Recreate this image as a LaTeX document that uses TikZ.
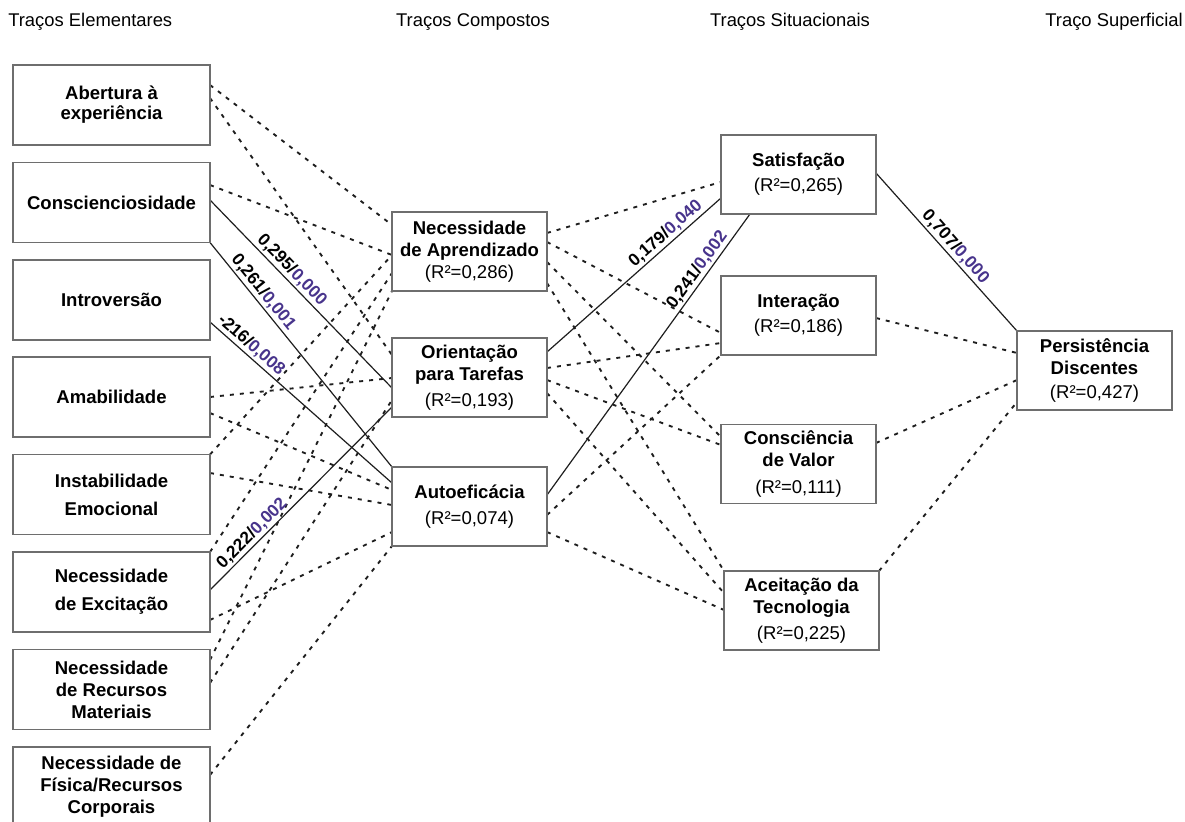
\documentclass[tikz,border=0pt]{standalone}
\usepackage{fontspec}
\setmainfont{Liberation Sans}
\pgfdeclarelayer{bg}
\pgfsetlayers{bg,main}
\definecolor{boxline}{RGB}{110,110,110}
\definecolor{linkcol}{RGB}{30,30,30}
\definecolor{pval}{RGB}{72,52,140}
\newcommand\coef[2]{\textbf{#1/\textcolor{pval}{#2}}}
\tikzset{
  trait/.style={draw=boxline, line width=1.1pt, fill=white, inner sep=0pt, outer sep=0pt,
    align=center, font=\fontsize{13.9pt}{16.5pt}\selectfont\bfseries},
  elem/.style={trait, minimum width=147.75pt, minimum height=60pt},
  comp/.style={trait, minimum width=116.25pt, minimum height=59.25pt},
  weak/.style={draw=linkcol, line width=1.4pt, dash pattern=on 3pt off 4.5pt},
  strong/.style={draw=linkcol, line width=0.9pt},
  coeflabel/.style={sloped, above, font=\fontsize{13pt}{15pt}\selectfont, inner sep=1.5pt},
  head/.style={font=\fontsize{13.8pt}{16pt}\selectfont, inner sep=0pt}
}
\begin{document}
\begin{tikzpicture}[x=0.75pt,y=-0.75pt]
\useasboundingbox (0,0) rectangle (1185,821);
\clip (0,0) rectangle (1185,821);

% column headings
\node[head, anchor=west] (h1) at (8,22) {Traços Elementares};
\node[head] (h2) at (473,22) {Traços Compostos};
\node[head] (h3) at (790,22) {Traços Situacionais};
\node[head, anchor=east] (h4) at (1183,22) {Traço Superficial};

% elementary traits
\node[elem] (ab) at (111.5,105) {Abertura à\\[-1.5pt]experiência};
\node[elem] (co) at (111.5,202.5) {Conscienciosidade};
\node[elem] (in) at (111.5,300) {Introversão};
\node[elem] (am) at (111.5,397) {Amabilidade};
\node[elem] (ie) at (111.5,494.5) {Instabilidade\\[4.5pt]Emocional};
\node[elem] (ne) at (111.5,592) {Necessidade\\[4.5pt]de Excitação};
\node[elem] (rm) at (111.5,689.5) {Necessidade\\de Recursos\\Materiais};
\node[elem] (rc) at (111.5,787) {Necessidade de\\Física/Recursos\\Corporais};

% compound traits
\node[comp] (na) at (469.5,251.5) {Necessidade\\de Aprendizado\\\mdseries(R²=0,286)};
\node[comp] (ot) at (469.5,377.5) {Orientação\\para Tarefas\\[3pt]\mdseries(R²=0,193)};
\node[comp] (ae) at (469.5,506.5) {Autoeficácia\\[3pt]\mdseries(R²=0,074)};

% situational traits
\node[comp] (sa) at (798.5,174.5) {Satisfação\\[2.25pt]\mdseries(R²=0,265)};
\node[comp] (it) at (798.5,315.5) {Interação\\[2.25pt]\mdseries(R²=0,186)};
\node[comp] (cv) at (798.5,464) {Consciência\\de Valor\\[3.75pt]\mdseries(R²=0,111)};
\node[comp] (at) at (801.5,610.5) {Aceitação da\\Tecnologia\\[3pt]\mdseries(R²=0,225)};

% surface trait
\node[comp] (pd) at (1094.5,370.5) {Persistência\\Discentes\\[1.5pt]\mdseries(R²=0,427)};

\begin{pgfonlayer}{bg}
% elementary -> compound, non-significant paths
\draw[weak] (ab.east |- 0,85)  -- (na.west |- 0,225);
\draw[weak] (ab.east |- 0,98)  -- (ot.west |- 0,355);
\draw[weak] (co.east |- 0,185) -- (na.west |- 0,255);
\draw[weak] (am.east |- 0,397) -- (ot.west |- 0,378);
\draw[weak] (am.east |- 0,413) -- (ae.west |- 0,490);
\draw[weak] (ie.north east)    -- (na.west |- 0,255);
\draw[weak] (ie.east |- 0,473) -- (ae.west |- 0,505);
\draw[weak] (ne.north east)    -- (na.west |- 0,273);
\draw[weak] (ne.east |- 0,620) -- (ae.west |- 0,532);
\draw[weak] (rm.east |- 0,660) -- (na.south west);
\draw[weak] (rm.east |- 0,683) -- (ot.west |- 0,400);
\draw[weak] (rc.east |- 0,775) -- (ae.south west);

% elementary -> compound, significant paths
\draw[strong] (co.east |- 0,200) -- node[coeflabel, pos=0.41] {\coef{0,295}{0,000}} (ot.west |- 0,388);
\draw[strong] (co.south east) -- node[coeflabel, pos=0.25] {\coef{0,261}{0,001}} (ae.north west);
\draw[strong] (in.east |- 0,322) -- node[coeflabel, pos=0.19] {\coef{-216}{0,008}} (ae.west |- 0,483);
\draw[strong] (ne.east |- 0,590) -- node[coeflabel, pos=0.27] {\coef{0,222}{0,002}} (ot.west |- 0,407);

% compound -> situational
\draw[weak] (na.east |- 0,233) -- (sa.west |- 0,182);
\draw[weak] (na.east |- 0,242) -- (it.west |- 0,333);
\draw[weak] (na.east |- 0,262) -- (cv.west |- 0,437);
\draw[weak] (na.east |- 0,283) -- (at.north west);
\draw[weak] (ot.east |- 0,368) -- (it.west |- 0,343);
\draw[weak] (ot.east |- 0,380) -- (cv.west |- 0,445);
\draw[weak] (ot.east |- 0,393) -- (at.west |- 0,593);
\draw[weak] (ae.east |- 0,515) -- (it.south west);
\draw[weak] (ae.east |- 0,532) -- (at.west |- 0,610);
\draw[strong] (ot.east |- 0,352) -- node[coeflabel, pos=0.72] {\coef{0,179}{0,040}} (sa.west |- 0,198);
\draw[strong] (ae.east |- 0,495) -- node[coeflabel, pos=0.78] {\coef{0,241}{0,002}} (sa.south -| 750,0);

% situational -> surface
\draw[strong] (sa.east |- 0,173) -- node[coeflabel, pos=0.51] {\coef{0,707}{0,000}} (pd.north west);
\draw[weak] (it.east |- 0,318) -- (pd.west |- 0,353);
\draw[weak] (cv.east |- 0,443) -- (pd.west |- 0,380);
\draw[weak] (at.north east)    -- (pd.west |- 0,402);
\end{pgfonlayer}
\end{tikzpicture}
\end{document}
